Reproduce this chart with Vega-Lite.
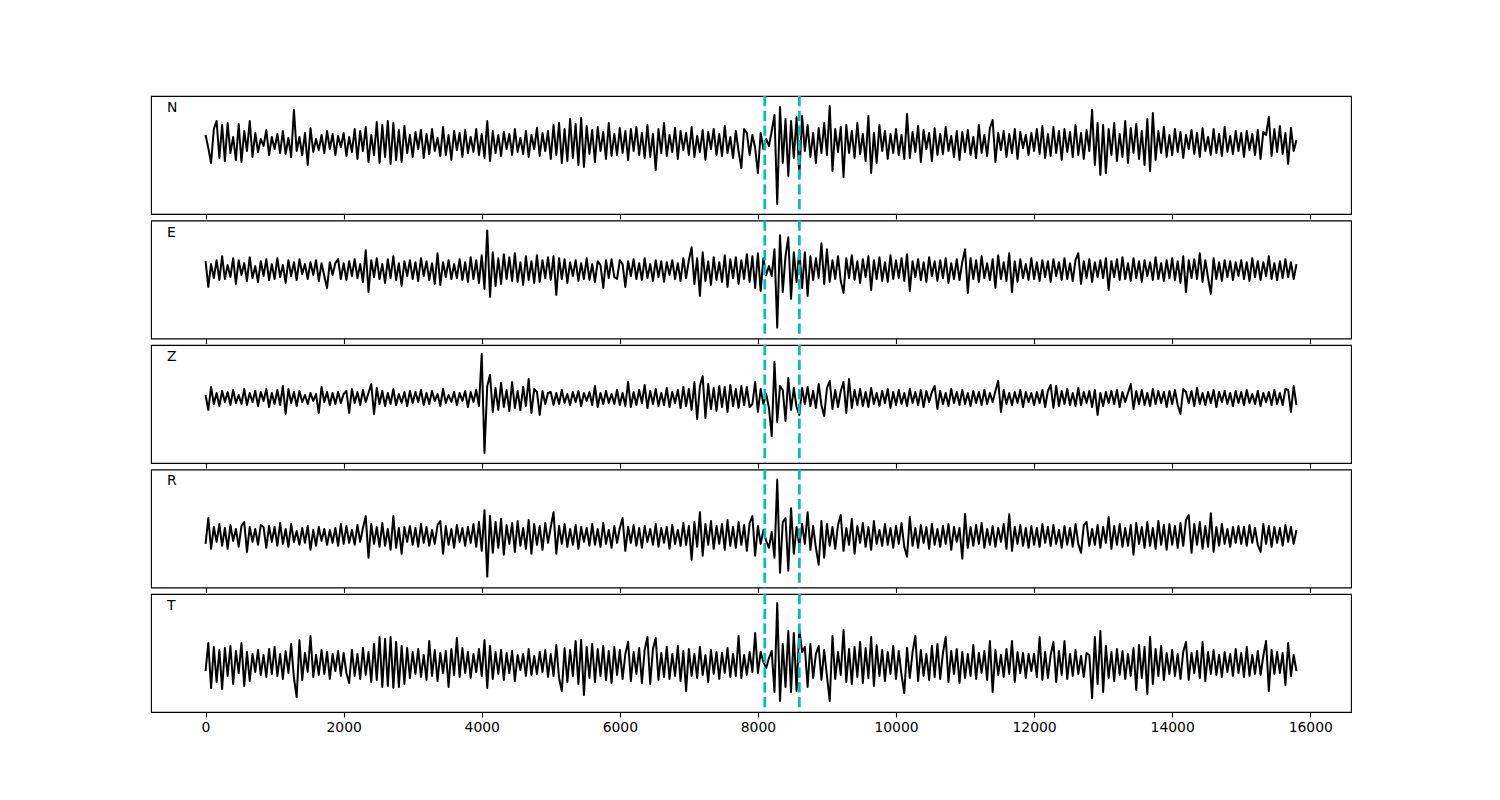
{
"$schema": "https://vega.github.io/schema/vega-lite/v6.json",
"padding": {"left": 150, "top": 94, "right": 0, "bottom": 0},
"background": "white",
"spacing": 6.5,
"bounds": "flush",
"config": {
  "view": {"stroke": "black", "strokeWidth": 1.1},
  "axis": {"labelFont": "DejaVu Sans", "labelFontSize": 13.9, "labelColor": "black", "tickColor": "black", "tickSize": 5, "tickWidth": 1.1, "grid": false, "domain": false, "labelPadding": 3, "title": null, "format": "d"}
},
"datasets": {
"picks": [{"t": 8100}, {"t": 8600}],
"N": [
{"x":0,"y":8},{"x":40,"y":-5},{"x":80,"y":-20},{"x":120,"y":14},{"x":160,"y":22},{"x":200,"y":-15},{"x":240,"y":18},{"x":280,"y":-18},{"x":320,"y":20},{"x":360,"y":-10},{"x":400,"y":6},{"x":440,"y":-17},{"x":480,"y":19},{"x":520,"y":-19},{"x":560,"y":12},{"x":600,"y":-8},{"x":640,"y":22},{"x":680,"y":-14},{"x":720,"y":10},{"x":760,"y":-9},{"x":800,"y":4},{"x":840,"y":-3},{"x":880,"y":13},{"x":920,"y":-12},{"x":960,"y":6},
{"x":1000,"y":-6},{"x":1040,"y":9},{"x":1080,"y":-10},{"x":1120,"y":12},{"x":1160,"y":-11},{"x":1200,"y":5},{"x":1240,"y":-14},{"x":1280,"y":33},{"x":1320,"y":-8},{"x":1360,"y":6},{"x":1400,"y":-12},{"x":1440,"y":10},{"x":1480,"y":-22},{"x":1520,"y":15},{"x":1560,"y":-9},{"x":1600,"y":4},{"x":1640,"y":-7},{"x":1680,"y":8},{"x":1720,"y":-10},{"x":1760,"y":12},{"x":1800,"y":-6},{"x":1840,"y":9},{"x":1880,"y":-12},{"x":1920,"y":7},{"x":1960,"y":-4},
{"x":2000,"y":10},{"x":2040,"y":-13},{"x":2080,"y":6},{"x":2120,"y":-9},{"x":2160,"y":14},{"x":2200,"y":-16},{"x":2240,"y":12},{"x":2280,"y":-8},{"x":2320,"y":16},{"x":2360,"y":-19},{"x":2400,"y":8},{"x":2440,"y":-12},{"x":2480,"y":21},{"x":2520,"y":-20},{"x":2560,"y":18},{"x":2600,"y":-14},{"x":2640,"y":22},{"x":2680,"y":-21},{"x":2720,"y":20},{"x":2760,"y":-17},{"x":2800,"y":13},{"x":2840,"y":-19},{"x":2880,"y":17},{"x":2920,"y":-10},{"x":2960,"y":8},
{"x":3000,"y":-14},{"x":3040,"y":11},{"x":3080,"y":-6},{"x":3120,"y":13},{"x":3160,"y":-15},{"x":3200,"y":9},{"x":3240,"y":-11},{"x":3280,"y":14},{"x":3320,"y":-8},{"x":3360,"y":5},{"x":3400,"y":-13},{"x":3440,"y":16},{"x":3480,"y":-12},{"x":3520,"y":8},{"x":3560,"y":-17},{"x":3600,"y":12},{"x":3640,"y":-7},{"x":3680,"y":10},{"x":3720,"y":-14},{"x":3760,"y":13},{"x":3800,"y":-10},{"x":3840,"y":6},{"x":3880,"y":-9},{"x":3920,"y":14},{"x":3960,"y":-12},
{"x":4000,"y":9},{"x":4040,"y":-15},{"x":4080,"y":22},{"x":4120,"y":-18},{"x":4160,"y":12},{"x":4200,"y":-10},{"x":4240,"y":8},{"x":4280,"y":-13},{"x":4320,"y":11},{"x":4360,"y":-6},{"x":4400,"y":9},{"x":4440,"y":-12},{"x":4480,"y":14},{"x":4520,"y":-9},{"x":4560,"y":5},{"x":4600,"y":-11},{"x":4640,"y":12},{"x":4680,"y":-14},{"x":4720,"y":8},{"x":4760,"y":-6},{"x":4800,"y":15},{"x":4840,"y":-13},{"x":4880,"y":10},{"x":4920,"y":-8},{"x":4960,"y":12},
{"x":5000,"y":-16},{"x":5040,"y":18},{"x":5080,"y":-12},{"x":5120,"y":20},{"x":5160,"y":-20},{"x":5200,"y":14},{"x":5240,"y":-18},{"x":5280,"y":24},{"x":5320,"y":-15},{"x":5360,"y":19},{"x":5400,"y":-22},{"x":5440,"y":25},{"x":5480,"y":-24},{"x":5520,"y":17},{"x":5560,"y":-11},{"x":5600,"y":13},{"x":5640,"y":-19},{"x":5680,"y":16},{"x":5720,"y":-8},{"x":5760,"y":11},{"x":5800,"y":-16},{"x":5840,"y":20},{"x":5880,"y":-13},{"x":5920,"y":9},{"x":5960,"y":-12},
{"x":6000,"y":15},{"x":6040,"y":-10},{"x":6080,"y":12},{"x":6120,"y":-17},{"x":6160,"y":14},{"x":6200,"y":-8},{"x":6240,"y":16},{"x":6280,"y":-12},{"x":6320,"y":10},{"x":6360,"y":-15},{"x":6400,"y":18},{"x":6440,"y":-14},{"x":6480,"y":9},{"x":6520,"y":-27},{"x":6560,"y":14},{"x":6600,"y":-10},{"x":6640,"y":20},{"x":6680,"y":-13},{"x":6720,"y":8},{"x":6760,"y":-9},{"x":6800,"y":15},{"x":6840,"y":-16},{"x":6880,"y":12},{"x":6920,"y":-7},{"x":6960,"y":10},
{"x":7000,"y":-12},{"x":7040,"y":16},{"x":7080,"y":-14},{"x":7120,"y":7},{"x":7160,"y":-9},{"x":7200,"y":13},{"x":7240,"y":-17},{"x":7280,"y":11},{"x":7320,"y":-6},{"x":7360,"y":14},{"x":7400,"y":-12},{"x":7440,"y":9},{"x":7480,"y":-13},{"x":7520,"y":17},{"x":7560,"y":-10},{"x":7600,"y":6},{"x":7640,"y":-15},{"x":7680,"y":12},{"x":7720,"y":-8},{"x":7760,"y":-25},{"x":7800,"y":14},{"x":7840,"y":10},{"x":7880,"y":-12},{"x":7920,"y":8},{"x":7960,"y":-5},
{"x":8000,"y":-30},{"x":8040,"y":10},{"x":8080,"y":-6},{"x":8120,"y":4},{"x":8160,"y":-3},{"x":8200,"y":12},{"x":8240,"y":28},{"x":8280,"y":-61},{"x":8320,"y":36},{"x":8360,"y":-20},{"x":8400,"y":24},{"x":8440,"y":-33},{"x":8480,"y":22},{"x":8520,"y":-15},{"x":8560,"y":26},{"x":8600,"y":-33},{"x":8640,"y":27},{"x":8680,"y":-8},{"x":8720,"y":18},{"x":8760,"y":-14},{"x":8800,"y":10},{"x":8840,"y":-20},{"x":8880,"y":15},{"x":8920,"y":-10},{"x":8960,"y":20},
{"x":9000,"y":-12},{"x":9040,"y":37},{"x":9080,"y":-28},{"x":9120,"y":14},{"x":9160,"y":-9},{"x":9200,"y":16},{"x":9240,"y":-34},{"x":9280,"y":18},{"x":9320,"y":-10},{"x":9360,"y":12},{"x":9400,"y":-15},{"x":9440,"y":20},{"x":9480,"y":-11},{"x":9520,"y":9},{"x":9560,"y":-18},{"x":9600,"y":27},{"x":9640,"y":-30},{"x":9680,"y":10},{"x":9720,"y":-20},{"x":9760,"y":18},{"x":9800,"y":-8},{"x":9840,"y":12},{"x":9880,"y":-16},{"x":9920,"y":9},{"x":9960,"y":-10},
{"x":10000,"y":14},{"x":10040,"y":-12},{"x":10080,"y":8},{"x":10120,"y":-16},{"x":10160,"y":29},{"x":10200,"y":-15},{"x":10240,"y":11},{"x":10280,"y":-9},{"x":10320,"y":17},{"x":10360,"y":-19},{"x":10400,"y":13},{"x":10440,"y":-6},{"x":10480,"y":10},{"x":10520,"y":-18},{"x":10560,"y":15},{"x":10600,"y":-12},{"x":10640,"y":9},{"x":10680,"y":-11},{"x":10720,"y":16},{"x":10760,"y":-8},{"x":10800,"y":7},{"x":10840,"y":-14},{"x":10880,"y":12},{"x":10920,"y":-17},{"x":10960,"y":11},
{"x":11000,"y":-9},{"x":11040,"y":13},{"x":11080,"y":-12},{"x":11120,"y":6},{"x":11160,"y":-15},{"x":11200,"y":18},{"x":11240,"y":-10},{"x":11280,"y":8},{"x":11320,"y":-13},{"x":11360,"y":15},{"x":11400,"y":23},{"x":11440,"y":-19},{"x":11480,"y":10},{"x":11520,"y":-7},{"x":11560,"y":12},{"x":11600,"y":-14},{"x":11640,"y":9},{"x":11680,"y":-10},{"x":11720,"y":14},{"x":11760,"y":-16},{"x":11800,"y":11},{"x":11840,"y":-5},{"x":11880,"y":8},{"x":11920,"y":-12},{"x":11960,"y":10},
{"x":12000,"y":-8},{"x":12040,"y":14},{"x":12080,"y":-11},{"x":12120,"y":17},{"x":12160,"y":-15},{"x":12200,"y":9},{"x":12240,"y":-13},{"x":12280,"y":16},{"x":12320,"y":-10},{"x":12360,"y":12},{"x":12400,"y":-17},{"x":12440,"y":14},{"x":12480,"y":-9},{"x":12520,"y":11},{"x":12560,"y":-14},{"x":12600,"y":18},{"x":12640,"y":-12},{"x":12680,"y":10},{"x":12720,"y":-16},{"x":12760,"y":13},{"x":12800,"y":-8},{"x":12840,"y":33},{"x":12880,"y":-22},{"x":12920,"y":20},{"x":12960,"y":-32},
{"x":13000,"y":18},{"x":13040,"y":-30},{"x":13080,"y":14},{"x":13120,"y":-12},{"x":13160,"y":20},{"x":13200,"y":-18},{"x":13240,"y":9},{"x":13280,"y":-14},{"x":13320,"y":22},{"x":13360,"y":-20},{"x":13400,"y":15},{"x":13440,"y":-10},{"x":13480,"y":19},{"x":13520,"y":-16},{"x":13560,"y":12},{"x":13600,"y":-22},{"x":13640,"y":24},{"x":13680,"y":-28},{"x":13720,"y":30},{"x":13760,"y":-17},{"x":13800,"y":12},{"x":13840,"y":-10},{"x":13880,"y":16},{"x":13920,"y":-14},{"x":13960,"y":8},
{"x":14000,"y":-12},{"x":14040,"y":14},{"x":14080,"y":-9},{"x":14120,"y":11},{"x":14160,"y":-15},{"x":14200,"y":8},{"x":14240,"y":-6},{"x":14280,"y":13},{"x":14320,"y":-11},{"x":14360,"y":10},{"x":14400,"y":-14},{"x":14440,"y":15},{"x":14480,"y":-8},{"x":14520,"y":6},{"x":14560,"y":-12},{"x":14600,"y":14},{"x":14640,"y":-10},{"x":14680,"y":9},{"x":14720,"y":-13},{"x":14760,"y":16},{"x":14800,"y":-9},{"x":14840,"y":7},{"x":14880,"y":-11},{"x":14920,"y":12},{"x":14960,"y":-8},
{"x":15000,"y":10},{"x":15040,"y":-14},{"x":15080,"y":12},{"x":15120,"y":-7},{"x":15160,"y":9},{"x":15200,"y":-12},{"x":15240,"y":13},{"x":15280,"y":-16},{"x":15320,"y":11},{"x":15360,"y":8},{"x":15400,"y":26},{"x":15440,"y":-13},{"x":15480,"y":14},{"x":15520,"y":-9},{"x":15560,"y":17},{"x":15600,"y":-11},{"x":15640,"y":10},{"x":15680,"y":-21},{"x":15720,"y":15},{"x":15760,"y":-8},{"x":15800,"y":3}
],
"E": [
{"x":0,"y":9},{"x":40,"y":-17},{"x":80,"y":6},{"x":120,"y":-8},{"x":160,"y":10},{"x":200,"y":-10},{"x":240,"y":14},{"x":280,"y":-9},{"x":320,"y":5},{"x":360,"y":-7},{"x":400,"y":12},{"x":440,"y":-14},{"x":480,"y":10},{"x":520,"y":-5},{"x":560,"y":7},{"x":600,"y":-11},{"x":640,"y":13},{"x":680,"y":-8},{"x":720,"y":4},{"x":760,"y":-12},{"x":800,"y":9},{"x":840,"y":-6},{"x":880,"y":11},{"x":920,"y":-10},{"x":960,"y":6},
{"x":1000,"y":-9},{"x":1040,"y":12},{"x":1080,"y":-7},{"x":1120,"y":5},{"x":1160,"y":-13},{"x":1200,"y":10},{"x":1240,"y":-6},{"x":1280,"y":8},{"x":1320,"y":-10},{"x":1360,"y":11},{"x":1400,"y":-4},{"x":1440,"y":6},{"x":1480,"y":-9},{"x":1520,"y":8},{"x":1560,"y":-5},{"x":1600,"y":10},{"x":1640,"y":-11},{"x":1680,"y":7},{"x":1720,"y":-6},{"x":1760,"y":-18},{"x":1800,"y":8},{"x":1840,"y":-5},{"x":1880,"y":7},{"x":1920,"y":11},{"x":1960,"y":-9},
{"x":2000,"y":7},{"x":2040,"y":-10},{"x":2080,"y":9},{"x":2120,"y":-6},{"x":2160,"y":11},{"x":2200,"y":-8},{"x":2240,"y":6},{"x":2280,"y":-12},{"x":2320,"y":20},{"x":2360,"y":-22},{"x":2400,"y":10},{"x":2440,"y":-7},{"x":2480,"y":12},{"x":2520,"y":-9},{"x":2560,"y":6},{"x":2600,"y":-13},{"x":2640,"y":11},{"x":2680,"y":-8},{"x":2720,"y":14},{"x":2760,"y":-10},{"x":2800,"y":7},{"x":2840,"y":-16},{"x":2880,"y":9},{"x":2920,"y":-6},{"x":2960,"y":10},
{"x":3000,"y":-9},{"x":3040,"y":8},{"x":3080,"y":-11},{"x":3120,"y":12},{"x":3160,"y":-6},{"x":3200,"y":9},{"x":3240,"y":-10},{"x":3280,"y":7},{"x":3320,"y":-14},{"x":3360,"y":17},{"x":3400,"y":-15},{"x":3440,"y":8},{"x":3480,"y":-7},{"x":3520,"y":10},{"x":3560,"y":-9},{"x":3600,"y":6},{"x":3640,"y":-8},{"x":3680,"y":11},{"x":3720,"y":-10},{"x":3760,"y":8},{"x":3800,"y":-12},{"x":3840,"y":13},{"x":3880,"y":-9},{"x":3920,"y":10},{"x":3960,"y":-13},
{"x":4000,"y":15},{"x":4040,"y":-19},{"x":4080,"y":40},{"x":4120,"y":-27},{"x":4160,"y":18},{"x":4200,"y":-16},{"x":4240,"y":12},{"x":4280,"y":-14},{"x":4320,"y":16},{"x":4360,"y":-9},{"x":4400,"y":13},{"x":4440,"y":-11},{"x":4480,"y":17},{"x":4520,"y":-12},{"x":4560,"y":8},{"x":4600,"y":-15},{"x":4640,"y":14},{"x":4680,"y":-10},{"x":4720,"y":9},{"x":4760,"y":-13},{"x":4800,"y":15},{"x":4840,"y":-12},{"x":4880,"y":10},{"x":4920,"y":-8},{"x":4960,"y":13},
{"x":5000,"y":-10},{"x":5040,"y":14},{"x":5080,"y":-25},{"x":5120,"y":12},{"x":5160,"y":-9},{"x":5200,"y":11},{"x":5240,"y":-13},{"x":5280,"y":8},{"x":5320,"y":-6},{"x":5360,"y":10},{"x":5400,"y":-11},{"x":5440,"y":7},{"x":5480,"y":-9},{"x":5520,"y":12},{"x":5560,"y":-10},{"x":5600,"y":6},{"x":5640,"y":-12},{"x":5680,"y":9},{"x":5720,"y":5},{"x":5760,"y":-18},{"x":5800,"y":10},{"x":5840,"y":-8},{"x":5880,"y":11},{"x":5920,"y":-7},{"x":5960,"y":-9},
{"x":6000,"y":10},{"x":6040,"y":6},{"x":6080,"y":-17},{"x":6120,"y":9},{"x":6160,"y":-6},{"x":6200,"y":11},{"x":6240,"y":-9},{"x":6280,"y":7},{"x":6320,"y":-10},{"x":6360,"y":12},{"x":6400,"y":-8},{"x":6440,"y":6},{"x":6480,"y":-11},{"x":6520,"y":10},{"x":6560,"y":-7},{"x":6600,"y":9},{"x":6640,"y":-12},{"x":6680,"y":8},{"x":6720,"y":-5},{"x":6760,"y":10},{"x":6800,"y":-9},{"x":6840,"y":7},{"x":6880,"y":-11},{"x":6920,"y":12},{"x":6960,"y":-8},
{"x":7000,"y":10},{"x":7040,"y":23},{"x":7080,"y":-14},{"x":7120,"y":12},{"x":7160,"y":-26},{"x":7200,"y":18},{"x":7240,"y":-11},{"x":7280,"y":9},{"x":7320,"y":-15},{"x":7360,"y":13},{"x":7400,"y":-10},{"x":7440,"y":8},{"x":7480,"y":-12},{"x":7520,"y":15},{"x":7560,"y":-17},{"x":7600,"y":11},{"x":7640,"y":-8},{"x":7680,"y":13},{"x":7720,"y":-14},{"x":7760,"y":10},{"x":7800,"y":-9},{"x":7840,"y":16},{"x":7880,"y":-12},{"x":7920,"y":14},{"x":7960,"y":-18},
{"x":8000,"y":17},{"x":8040,"y":-21},{"x":8080,"y":12},{"x":8120,"y":-5},{"x":8160,"y":4},{"x":8200,"y":-6},{"x":8240,"y":21},{"x":8280,"y":-58},{"x":8320,"y":35},{"x":8360,"y":-22},{"x":8400,"y":14},{"x":8440,"y":33},{"x":8480,"y":-29},{"x":8520,"y":18},{"x":8560,"y":-12},{"x":8600,"y":20},{"x":8640,"y":-18},{"x":8680,"y":18},{"x":8720,"y":-26},{"x":8760,"y":14},{"x":8800,"y":-10},{"x":8840,"y":12},{"x":8880,"y":-8},{"x":8920,"y":27},{"x":8960,"y":-14},
{"x":9000,"y":21},{"x":9040,"y":-12},{"x":9080,"y":10},{"x":9120,"y":-9},{"x":9160,"y":14},{"x":9200,"y":-11},{"x":9240,"y":-23},{"x":9280,"y":12},{"x":9320,"y":-8},{"x":9360,"y":15},{"x":9400,"y":-10},{"x":9440,"y":9},{"x":9480,"y":-13},{"x":9520,"y":11},{"x":9560,"y":-7},{"x":9600,"y":14},{"x":9640,"y":-20},{"x":9680,"y":10},{"x":9720,"y":-9},{"x":9760,"y":13},{"x":9800,"y":-11},{"x":9840,"y":8},{"x":9880,"y":-12},{"x":9920,"y":15},{"x":9960,"y":-9},
{"x":10000,"y":10},{"x":10040,"y":-8},{"x":10080,"y":12},{"x":10120,"y":-11},{"x":10160,"y":16},{"x":10200,"y":-21},{"x":10240,"y":9},{"x":10280,"y":-7},{"x":10320,"y":11},{"x":10360,"y":-10},{"x":10400,"y":8},{"x":10440,"y":-12},{"x":10480,"y":13},{"x":10520,"y":-6},{"x":10560,"y":9},{"x":10600,"y":-11},{"x":10640,"y":10},{"x":10680,"y":-8},{"x":10720,"y":12},{"x":10760,"y":-13},{"x":10800,"y":7},{"x":10840,"y":-9},{"x":10880,"y":11},{"x":10920,"y":-10},{"x":10960,"y":8},
{"x":11000,"y":21},{"x":11040,"y":-23},{"x":11080,"y":12},{"x":11120,"y":-9},{"x":11160,"y":10},{"x":11200,"y":-12},{"x":11240,"y":14},{"x":11280,"y":-8},{"x":11320,"y":7},{"x":11360,"y":-10},{"x":11400,"y":11},{"x":11440,"y":-18},{"x":11480,"y":15},{"x":11520,"y":-9},{"x":11560,"y":8},{"x":11600,"y":-11},{"x":11640,"y":17},{"x":11680,"y":-22},{"x":11720,"y":9},{"x":11760,"y":-12},{"x":11800,"y":11},{"x":11840,"y":-8},{"x":11880,"y":6},{"x":11920,"y":-10},{"x":11960,"y":12},
{"x":12000,"y":-9},{"x":12040,"y":8},{"x":12080,"y":-11},{"x":12120,"y":10},{"x":12160,"y":-7},{"x":12200,"y":9},{"x":12240,"y":-12},{"x":12280,"y":11},{"x":12320,"y":-6},{"x":12360,"y":8},{"x":12400,"y":-10},{"x":12440,"y":12},{"x":12480,"y":-9},{"x":12520,"y":7},{"x":12560,"y":-11},{"x":12600,"y":10},{"x":12640,"y":17},{"x":12680,"y":-14},{"x":12720,"y":9},{"x":12760,"y":-8},{"x":12800,"y":11},{"x":12840,"y":-12},{"x":12880,"y":8},{"x":12920,"y":-7},{"x":12960,"y":10},
{"x":13000,"y":-8},{"x":13040,"y":12},{"x":13080,"y":-20},{"x":13120,"y":9},{"x":13160,"y":-7},{"x":13200,"y":11},{"x":13240,"y":-10},{"x":13280,"y":13},{"x":13320,"y":-9},{"x":13360,"y":7},{"x":13400,"y":-11},{"x":13440,"y":12},{"x":13480,"y":-8},{"x":13520,"y":9},{"x":13560,"y":-12},{"x":13600,"y":10},{"x":13640,"y":-6},{"x":13680,"y":8},{"x":13720,"y":-10},{"x":13760,"y":13},{"x":13800,"y":-9},{"x":13840,"y":7},{"x":13880,"y":-11},{"x":13920,"y":10},{"x":13960,"y":-8},
{"x":14000,"y":12},{"x":14040,"y":-10},{"x":14080,"y":9},{"x":14120,"y":-13},{"x":14160,"y":14},{"x":14200,"y":-22},{"x":14240,"y":10},{"x":14280,"y":-8},{"x":14320,"y":11},{"x":14360,"y":-9},{"x":14400,"y":17},{"x":14440,"y":-12},{"x":14480,"y":10},{"x":14520,"y":-8},{"x":14560,"y":-24},{"x":14600,"y":12},{"x":14640,"y":-9},{"x":14680,"y":8},{"x":14720,"y":-11},{"x":14760,"y":10},{"x":14800,"y":-7},{"x":14840,"y":9},{"x":14880,"y":-10},{"x":14920,"y":8},{"x":14960,"y":-6},
{"x":15000,"y":10},{"x":15040,"y":-9},{"x":15080,"y":8},{"x":15120,"y":-11},{"x":15160,"y":12},{"x":15200,"y":-7},{"x":15240,"y":9},{"x":15280,"y":-10},{"x":15320,"y":8},{"x":15360,"y":-6},{"x":15400,"y":14},{"x":15440,"y":-9},{"x":15480,"y":7},{"x":15520,"y":-10},{"x":15560,"y":9},{"x":15600,"y":-8},{"x":15640,"y":11},{"x":15680,"y":-7},{"x":15720,"y":8},{"x":15760,"y":-9},{"x":15800,"y":6}
],
"Z": [
{"x":0,"y":3},{"x":40,"y":-12},{"x":80,"y":11},{"x":120,"y":-6},{"x":160,"y":5},{"x":200,"y":-8},{"x":240,"y":7},{"x":280,"y":-4},{"x":320,"y":6},{"x":360,"y":-7},{"x":400,"y":8},{"x":440,"y":-5},{"x":480,"y":3},{"x":520,"y":-6},{"x":560,"y":9},{"x":600,"y":-7},{"x":640,"y":5},{"x":680,"y":-4},{"x":720,"y":7},{"x":760,"y":-8},{"x":800,"y":6},{"x":840,"y":-3},{"x":880,"y":9},{"x":920,"y":-9},{"x":960,"y":5},
{"x":1000,"y":-6},{"x":1040,"y":8},{"x":1080,"y":-7},{"x":1120,"y":12},{"x":1160,"y":-16},{"x":1200,"y":9},{"x":1240,"y":-5},{"x":1280,"y":6},{"x":1320,"y":-8},{"x":1360,"y":7},{"x":1400,"y":-4},{"x":1440,"y":3},{"x":1480,"y":-6},{"x":1520,"y":5},{"x":1560,"y":-3},{"x":1600,"y":4},{"x":1640,"y":-15},{"x":1680,"y":11},{"x":1720,"y":-4},{"x":1760,"y":6},{"x":1800,"y":-7},{"x":1840,"y":5},{"x":1880,"y":-6},{"x":1920,"y":6},{"x":1960,"y":-5},
{"x":2000,"y":4},{"x":2040,"y":7},{"x":2080,"y":-15},{"x":2120,"y":9},{"x":2160,"y":-5},{"x":2200,"y":6},{"x":2240,"y":-7},{"x":2280,"y":8},{"x":2320,"y":-4},{"x":2360,"y":5},{"x":2400,"y":14},{"x":2440,"y":-16},{"x":2480,"y":10},{"x":2520,"y":-6},{"x":2560,"y":7},{"x":2600,"y":-8},{"x":2640,"y":5},{"x":2680,"y":-6},{"x":2720,"y":9},{"x":2760,"y":-7},{"x":2800,"y":4},{"x":2840,"y":-5},{"x":2880,"y":6},{"x":2920,"y":-8},{"x":2960,"y":7},
{"x":3000,"y":-5},{"x":3040,"y":6},{"x":3080,"y":-4},{"x":3120,"y":8},{"x":3160,"y":-7},{"x":3200,"y":5},{"x":3240,"y":-6},{"x":3280,"y":7},{"x":3320,"y":-3},{"x":3360,"y":4},{"x":3400,"y":-8},{"x":3440,"y":9},{"x":3480,"y":-5},{"x":3520,"y":3},{"x":3560,"y":-4},{"x":3600,"y":6},{"x":3640,"y":-7},{"x":3680,"y":5},{"x":3720,"y":-3},{"x":3760,"y":7},{"x":3800,"y":-9},{"x":3840,"y":6},{"x":3880,"y":-4},{"x":3920,"y":8},{"x":3960,"y":-8},
{"x":4000,"y":44},{"x":4040,"y":-55},{"x":4080,"y":12},{"x":4120,"y":23},{"x":4160,"y":-14},{"x":4200,"y":10},{"x":4240,"y":-12},{"x":4280,"y":15},{"x":4320,"y":-9},{"x":4360,"y":8},{"x":4400,"y":-13},{"x":4440,"y":16},{"x":4480,"y":-10},{"x":4520,"y":7},{"x":4560,"y":-12},{"x":4600,"y":11},{"x":4640,"y":-8},{"x":4680,"y":19},{"x":4720,"y":-15},{"x":4760,"y":9},{"x":4800,"y":6},{"x":4840,"y":-17},{"x":4880,"y":7},{"x":4920,"y":-6},{"x":4960,"y":5},
{"x":5000,"y":6},{"x":5040,"y":-7},{"x":5080,"y":5},{"x":5120,"y":-6},{"x":5160,"y":8},{"x":5200,"y":-5},{"x":5240,"y":4},{"x":5280,"y":-7},{"x":5320,"y":6},{"x":5360,"y":-4},{"x":5400,"y":7},{"x":5440,"y":-8},{"x":5480,"y":5},{"x":5520,"y":-3},{"x":5560,"y":6},{"x":5600,"y":-7},{"x":5640,"y":12},{"x":5680,"y":-9},{"x":5720,"y":5},{"x":5760,"y":-6},{"x":5800,"y":7},{"x":5840,"y":-5},{"x":5880,"y":4},{"x":5920,"y":-6},{"x":5960,"y":8},
{"x":6000,"y":-7},{"x":6040,"y":5},{"x":6080,"y":-8},{"x":6120,"y":16},{"x":6160,"y":-9},{"x":6200,"y":6},{"x":6240,"y":-7},{"x":6280,"y":8},{"x":6320,"y":-5},{"x":6360,"y":13},{"x":6400,"y":-10},{"x":6440,"y":7},{"x":6480,"y":-6},{"x":6520,"y":9},{"x":6560,"y":-8},{"x":6600,"y":5},{"x":6640,"y":-7},{"x":6680,"y":10},{"x":6720,"y":-9},{"x":6760,"y":6},{"x":6800,"y":-5},{"x":6840,"y":8},{"x":6880,"y":-10},{"x":6920,"y":11},{"x":6960,"y":-8},
{"x":7000,"y":9},{"x":7040,"y":-12},{"x":7080,"y":16},{"x":7120,"y":-21},{"x":7160,"y":12},{"x":7200,"y":22},{"x":7240,"y":-20},{"x":7280,"y":14},{"x":7320,"y":-11},{"x":7360,"y":10},{"x":7400,"y":-13},{"x":7440,"y":12},{"x":7480,"y":-9},{"x":7520,"y":11},{"x":7560,"y":-14},{"x":7600,"y":13},{"x":7640,"y":-8},{"x":7680,"y":9},{"x":7720,"y":-10},{"x":7760,"y":12},{"x":7800,"y":-7},{"x":7840,"y":11},{"x":7880,"y":-9},{"x":7920,"y":-6},{"x":7960,"y":16},
{"x":8000,"y":-14},{"x":8040,"y":9},{"x":8080,"y":-6},{"x":8120,"y":4},{"x":8160,"y":-10},{"x":8200,"y":-38},{"x":8240,"y":36},{"x":8280,"y":-24},{"x":8320,"y":12},{"x":8360,"y":8},{"x":8400,"y":-23},{"x":8440,"y":20},{"x":8480,"y":-12},{"x":8520,"y":10},{"x":8560,"y":-9},{"x":8600,"y":-17},{"x":8640,"y":10},{"x":8680,"y":-6},{"x":8720,"y":11},{"x":8760,"y":-8},{"x":8800,"y":7},{"x":8840,"y":-10},{"x":8880,"y":14},{"x":8920,"y":-7},{"x":8960,"y":-18},
{"x":9000,"y":10},{"x":9040,"y":17},{"x":9080,"y":-11},{"x":9120,"y":8},{"x":9160,"y":-9},{"x":9200,"y":7},{"x":9240,"y":16},{"x":9280,"y":-15},{"x":9320,"y":19},{"x":9360,"y":-10},{"x":9400,"y":8},{"x":9440,"y":-7},{"x":9480,"y":9},{"x":9520,"y":-8},{"x":9560,"y":6},{"x":9600,"y":-9},{"x":9640,"y":10},{"x":9680,"y":-6},{"x":9720,"y":5},{"x":9760,"y":-8},{"x":9800,"y":7},{"x":9840,"y":-5},{"x":9880,"y":9},{"x":9920,"y":-10},{"x":9960,"y":6},
{"x":10000,"y":-7},{"x":10040,"y":8},{"x":10080,"y":-6},{"x":10120,"y":5},{"x":10160,"y":-8},{"x":10200,"y":9},{"x":10240,"y":-5},{"x":10280,"y":6},{"x":10320,"y":-7},{"x":10360,"y":8},{"x":10400,"y":-9},{"x":10440,"y":7},{"x":10480,"y":-4},{"x":10520,"y":6},{"x":10560,"y":12},{"x":10600,"y":-11},{"x":10640,"y":7},{"x":10680,"y":-6},{"x":10720,"y":5},{"x":10760,"y":-8},{"x":10800,"y":9},{"x":10840,"y":-5},{"x":10880,"y":6},{"x":10920,"y":-7},{"x":10960,"y":8},
{"x":11000,"y":-6},{"x":11040,"y":5},{"x":11080,"y":-8},{"x":11120,"y":7},{"x":11160,"y":-5},{"x":11200,"y":6},{"x":11240,"y":-7},{"x":11280,"y":8},{"x":11320,"y":-6},{"x":11360,"y":5},{"x":11400,"y":-4},{"x":11440,"y":7},{"x":11480,"y":17},{"x":11520,"y":-14},{"x":11560,"y":8},{"x":11600,"y":-6},{"x":11640,"y":5},{"x":11680,"y":-7},{"x":11720,"y":6},{"x":11760,"y":-5},{"x":11800,"y":8},{"x":11840,"y":-9},{"x":11880,"y":6},{"x":11920,"y":-4},{"x":11960,"y":5},
{"x":12000,"y":-7},{"x":12040,"y":6},{"x":12080,"y":-5},{"x":12120,"y":8},{"x":12160,"y":-9},{"x":12200,"y":7},{"x":12240,"y":13},{"x":12280,"y":-10},{"x":12320,"y":12},{"x":12360,"y":-8},{"x":12400,"y":7},{"x":12440,"y":-6},{"x":12480,"y":9},{"x":12520,"y":-7},{"x":12560,"y":5},{"x":12600,"y":-8},{"x":12640,"y":10},{"x":12680,"y":-7},{"x":12720,"y":6},{"x":12760,"y":-5},{"x":12800,"y":7},{"x":12840,"y":-9},{"x":12880,"y":8},{"x":12920,"y":-17},{"x":12960,"y":5},
{"x":13000,"y":-8},{"x":13040,"y":6},{"x":13080,"y":-5},{"x":13120,"y":7},{"x":13160,"y":-6},{"x":13200,"y":8},{"x":13240,"y":-9},{"x":13280,"y":6},{"x":13320,"y":-4},{"x":13360,"y":5},{"x":13400,"y":14},{"x":13440,"y":-11},{"x":13480,"y":7},{"x":13520,"y":-6},{"x":13560,"y":8},{"x":13600,"y":-7},{"x":13640,"y":5},{"x":13680,"y":-8},{"x":13720,"y":9},{"x":13760,"y":-6},{"x":13800,"y":7},{"x":13840,"y":-5},{"x":13880,"y":6},{"x":13920,"y":-9},{"x":13960,"y":7},
{"x":14000,"y":-6},{"x":14040,"y":8},{"x":14080,"y":-7},{"x":14120,"y":-16},{"x":14160,"y":9},{"x":14200,"y":6},{"x":14240,"y":-5},{"x":14280,"y":7},{"x":14320,"y":-8},{"x":14360,"y":10},{"x":14400,"y":-6},{"x":14440,"y":5},{"x":14480,"y":-7},{"x":14520,"y":6},{"x":14560,"y":-5},{"x":14600,"y":8},{"x":14640,"y":-9},{"x":14680,"y":6},{"x":14720,"y":-4},{"x":14760,"y":7},{"x":14800,"y":-6},{"x":14840,"y":5},{"x":14880,"y":-8},{"x":14920,"y":7},{"x":14960,"y":-5},
{"x":15000,"y":6},{"x":15040,"y":-7},{"x":15080,"y":8},{"x":15120,"y":-5},{"x":15160,"y":4},{"x":15200,"y":-6},{"x":15240,"y":7},{"x":15280,"y":-8},{"x":15320,"y":5},{"x":15360,"y":-4},{"x":15400,"y":6},{"x":15440,"y":-7},{"x":15480,"y":8},{"x":15520,"y":-6},{"x":15560,"y":5},{"x":15600,"y":-7},{"x":15640,"y":9},{"x":15680,"y":8},{"x":15720,"y":-14},{"x":15760,"y":12},{"x":15800,"y":-7}
],
"R": [
{"x":0,"y":-8},{"x":40,"y":18},{"x":80,"y":-13},{"x":120,"y":9},{"x":160,"y":-6},{"x":200,"y":12},{"x":240,"y":-10},{"x":280,"y":8},{"x":320,"y":-13},{"x":360,"y":11},{"x":400,"y":-5},{"x":440,"y":7},{"x":480,"y":-11},{"x":520,"y":10},{"x":560,"y":14},{"x":600,"y":-16},{"x":640,"y":9},{"x":680,"y":-6},{"x":720,"y":7},{"x":760,"y":-9},{"x":800,"y":11},{"x":840,"y":9},{"x":880,"y":-12},{"x":920,"y":10},{"x":960,"y":-6},
{"x":1000,"y":9},{"x":1040,"y":-10},{"x":1080,"y":13},{"x":1120,"y":-8},{"x":1160,"y":7},{"x":1200,"y":-11},{"x":1240,"y":12},{"x":1280,"y":-6},{"x":1320,"y":5},{"x":1360,"y":-9},{"x":1400,"y":8},{"x":1440,"y":-7},{"x":1480,"y":10},{"x":1520,"y":-14},{"x":1560,"y":6},{"x":1600,"y":-10},{"x":1640,"y":9},{"x":1680,"y":-5},{"x":1720,"y":7},{"x":1760,"y":-9},{"x":1800,"y":6},{"x":1840,"y":-7},{"x":1880,"y":8},{"x":1920,"y":-10},{"x":1960,"y":12},
{"x":2000,"y":-8},{"x":2040,"y":10},{"x":2080,"y":-7},{"x":2120,"y":6},{"x":2160,"y":-9},{"x":2200,"y":11},{"x":2240,"y":-6},{"x":2280,"y":8},{"x":2320,"y":20},{"x":2360,"y":-22},{"x":2400,"y":12},{"x":2440,"y":-8},{"x":2480,"y":9},{"x":2520,"y":-11},{"x":2560,"y":13},{"x":2600,"y":-10},{"x":2640,"y":7},{"x":2680,"y":-14},{"x":2720,"y":20},{"x":2760,"y":-12},{"x":2800,"y":8},{"x":2840,"y":-18},{"x":2880,"y":9},{"x":2920,"y":-6},{"x":2960,"y":10},
{"x":3000,"y":-9},{"x":3040,"y":8},{"x":3080,"y":-11},{"x":3120,"y":12},{"x":3160,"y":-7},{"x":3200,"y":9},{"x":3240,"y":-10},{"x":3280,"y":6},{"x":3320,"y":-8},{"x":3360,"y":11},{"x":3400,"y":15},{"x":3440,"y":-18},{"x":3480,"y":10},{"x":3520,"y":-9},{"x":3560,"y":7},{"x":3600,"y":-12},{"x":3640,"y":11},{"x":3680,"y":-6},{"x":3720,"y":8},{"x":3760,"y":-10},{"x":3800,"y":9},{"x":3840,"y":-7},{"x":3880,"y":12},{"x":3920,"y":-11},{"x":3960,"y":14},
{"x":4000,"y":-15},{"x":4040,"y":26},{"x":4080,"y":-41},{"x":4120,"y":20},{"x":4160,"y":-17},{"x":4200,"y":14},{"x":4240,"y":-12},{"x":4280,"y":17},{"x":4320,"y":-19},{"x":4360,"y":11},{"x":4400,"y":-8},{"x":4440,"y":13},{"x":4480,"y":-16},{"x":4520,"y":15},{"x":4560,"y":-10},{"x":4600,"y":8},{"x":4640,"y":-13},{"x":4680,"y":16},{"x":4720,"y":-18},{"x":4760,"y":12},{"x":4800,"y":-9},{"x":4840,"y":10},{"x":4880,"y":-14},{"x":4920,"y":13},{"x":4960,"y":-7},
{"x":5000,"y":9},{"x":5040,"y":24},{"x":5080,"y":-18},{"x":5120,"y":10},{"x":5160,"y":-8},{"x":5200,"y":12},{"x":5240,"y":-11},{"x":5280,"y":7},{"x":5320,"y":-9},{"x":5360,"y":11},{"x":5400,"y":-13},{"x":5440,"y":9},{"x":5480,"y":-6},{"x":5520,"y":8},{"x":5560,"y":-10},{"x":5600,"y":12},{"x":5640,"y":-9},{"x":5680,"y":7},{"x":5720,"y":-11},{"x":5760,"y":13},{"x":5800,"y":-8},{"x":5840,"y":6},{"x":5880,"y":-12},{"x":5920,"y":10},{"x":5960,"y":-7},
{"x":6000,"y":8},{"x":6040,"y":18},{"x":6080,"y":-15},{"x":6120,"y":9},{"x":6160,"y":-7},{"x":6200,"y":11},{"x":6240,"y":-10},{"x":6280,"y":8},{"x":6320,"y":-12},{"x":6360,"y":10},{"x":6400,"y":-6},{"x":6440,"y":7},{"x":6480,"y":-9},{"x":6520,"y":12},{"x":6560,"y":-11},{"x":6600,"y":8},{"x":6640,"y":-7},{"x":6680,"y":9},{"x":6720,"y":-13},{"x":6760,"y":11},{"x":6800,"y":-8},{"x":6840,"y":6},{"x":6880,"y":-10},{"x":6920,"y":13},{"x":6960,"y":-9},
{"x":7000,"y":10},{"x":7040,"y":-24},{"x":7080,"y":14},{"x":7120,"y":-11},{"x":7160,"y":24},{"x":7200,"y":-20},{"x":7240,"y":12},{"x":7280,"y":-9},{"x":7320,"y":15},{"x":7360,"y":-13},{"x":7400,"y":10},{"x":7440,"y":-8},{"x":7480,"y":12},{"x":7520,"y":-14},{"x":7560,"y":16},{"x":7600,"y":-10},{"x":7640,"y":9},{"x":7680,"y":-12},{"x":7720,"y":14},{"x":7760,"y":-9},{"x":7800,"y":11},{"x":7840,"y":-15},{"x":7880,"y":13},{"x":7920,"y":20},{"x":7960,"y":-20},
{"x":8000,"y":10},{"x":8040,"y":-8},{"x":8080,"y":6},{"x":8120,"y":-5},{"x":8160,"y":-12},{"x":8200,"y":4},{"x":8240,"y":-22},{"x":8280,"y":57},{"x":8320,"y":-37},{"x":8360,"y":14},{"x":8400,"y":18},{"x":8440,"y":-35},{"x":8480,"y":28},{"x":8520,"y":-18},{"x":8560,"y":9},{"x":8600,"y":-10},{"x":8640,"y":12},{"x":8680,"y":-8},{"x":8720,"y":24},{"x":8760,"y":-14},{"x":8800,"y":10},{"x":8840,"y":-12},{"x":8880,"y":-29},{"x":8920,"y":15},{"x":8960,"y":-22},
{"x":9000,"y":12},{"x":9040,"y":-10},{"x":9080,"y":9},{"x":9120,"y":-13},{"x":9160,"y":11},{"x":9200,"y":21},{"x":9240,"y":-15},{"x":9280,"y":8},{"x":9320,"y":-9},{"x":9360,"y":17},{"x":9400,"y":-18},{"x":9440,"y":10},{"x":9480,"y":-7},{"x":9520,"y":13},{"x":9560,"y":-11},{"x":9600,"y":9},{"x":9640,"y":-14},{"x":9680,"y":15},{"x":9720,"y":-8},{"x":9760,"y":6},{"x":9800,"y":-10},{"x":9840,"y":12},{"x":9880,"y":-9},{"x":9920,"y":8},{"x":9960,"y":-12},
{"x":10000,"y":10},{"x":10040,"y":-8},{"x":10080,"y":13},{"x":10120,"y":-11},{"x":10160,"y":-21},{"x":10200,"y":19},{"x":10240,"y":-10},{"x":10280,"y":8},{"x":10320,"y":-12},{"x":10360,"y":11},{"x":10400,"y":-7},{"x":10440,"y":9},{"x":10480,"y":-13},{"x":10520,"y":12},{"x":10560,"y":-9},{"x":10600,"y":7},{"x":10640,"y":-11},{"x":10680,"y":10},{"x":10720,"y":-8},{"x":10760,"y":12},{"x":10800,"y":-14},{"x":10840,"y":9},{"x":10880,"y":-6},{"x":10920,"y":8},{"x":10960,"y":-23},
{"x":11000,"y":22},{"x":11040,"y":-12},{"x":11080,"y":9},{"x":11120,"y":-10},{"x":11160,"y":11},{"x":11200,"y":-8},{"x":11240,"y":13},{"x":11280,"y":-12},{"x":11320,"y":7},{"x":11360,"y":-9},{"x":11400,"y":10},{"x":11440,"y":-11},{"x":11480,"y":8},{"x":11520,"y":-6},{"x":11560,"y":12},{"x":11600,"y":-13},{"x":11640,"y":22},{"x":11680,"y":-15},{"x":11720,"y":9},{"x":11760,"y":-8},{"x":11800,"y":11},{"x":11840,"y":-10},{"x":11880,"y":8},{"x":11920,"y":-12},{"x":11960,"y":10},
{"x":12000,"y":-9},{"x":12040,"y":8},{"x":12080,"y":-11},{"x":12120,"y":12},{"x":12160,"y":-7},{"x":12200,"y":9},{"x":12240,"y":-10},{"x":12280,"y":11},{"x":12320,"y":-8},{"x":12360,"y":6},{"x":12400,"y":-12},{"x":12440,"y":10},{"x":12480,"y":-9},{"x":12520,"y":8},{"x":12560,"y":-11},{"x":12600,"y":12},{"x":12640,"y":-8},{"x":12680,"y":-17},{"x":12720,"y":11},{"x":12760,"y":14},{"x":12800,"y":-10},{"x":12840,"y":7},{"x":12880,"y":-9},{"x":12920,"y":11},{"x":12960,"y":-12},
{"x":13000,"y":9},{"x":13040,"y":-7},{"x":13080,"y":19},{"x":13120,"y":-13},{"x":13160,"y":10},{"x":13200,"y":-9},{"x":13240,"y":12},{"x":13280,"y":-11},{"x":13320,"y":8},{"x":13360,"y":-10},{"x":13400,"y":11},{"x":13440,"y":-19},{"x":13480,"y":13},{"x":13520,"y":-8},{"x":13560,"y":9},{"x":13600,"y":-12},{"x":13640,"y":14},{"x":13680,"y":-10},{"x":13720,"y":8},{"x":13760,"y":-13},{"x":13800,"y":15},{"x":13840,"y":-9},{"x":13880,"y":11},{"x":13920,"y":-14},{"x":13960,"y":12},
{"x":14000,"y":-9},{"x":14040,"y":10},{"x":14080,"y":-12},{"x":14120,"y":13},{"x":14160,"y":-10},{"x":14200,"y":16},{"x":14240,"y":21},{"x":14280,"y":-17},{"x":14320,"y":12},{"x":14360,"y":-9},{"x":14400,"y":14},{"x":14440,"y":-13},{"x":14480,"y":10},{"x":14520,"y":-11},{"x":14560,"y":23},{"x":14600,"y":-16},{"x":14640,"y":9},{"x":14680,"y":-10},{"x":14720,"y":12},{"x":14760,"y":-8},{"x":14800,"y":7},{"x":14840,"y":-11},{"x":14880,"y":9},{"x":14920,"y":-7},{"x":14960,"y":10},
{"x":15000,"y":-8},{"x":15040,"y":9},{"x":15080,"y":-10},{"x":15120,"y":11},{"x":15160,"y":-7},{"x":15200,"y":8},{"x":15240,"y":-9},{"x":15280,"y":-16},{"x":15320,"y":12},{"x":15360,"y":-8},{"x":15400,"y":10},{"x":15440,"y":-11},{"x":15480,"y":9},{"x":15520,"y":-7},{"x":15560,"y":8},{"x":15600,"y":-10},{"x":15640,"y":11},{"x":15680,"y":-6},{"x":15720,"y":9},{"x":15760,"y":-8},{"x":15800,"y":6}
],
"T": [
{"x":0,"y":-7},{"x":40,"y":21},{"x":80,"y":-24},{"x":120,"y":17},{"x":160,"y":-18},{"x":200,"y":14},{"x":240,"y":-25},{"x":280,"y":16},{"x":320,"y":-12},{"x":360,"y":18},{"x":400,"y":-20},{"x":440,"y":13},{"x":480,"y":-9},{"x":520,"y":21},{"x":560,"y":-22},{"x":600,"y":12},{"x":640,"y":-17},{"x":680,"y":10},{"x":720,"y":-8},{"x":760,"y":14},{"x":800,"y":-11},{"x":840,"y":9},{"x":880,"y":-13},{"x":920,"y":15},{"x":960,"y":-10},
{"x":1000,"y":17},{"x":1040,"y":-12},{"x":1080,"y":10},{"x":1120,"y":-15},{"x":1160,"y":13},{"x":1200,"y":-9},{"x":1240,"y":20},{"x":1280,"y":-14},{"x":1320,"y":-33},{"x":1360,"y":24},{"x":1400,"y":-16},{"x":1440,"y":11},{"x":1480,"y":-8},{"x":1520,"y":28},{"x":1560,"y":-13},{"x":1600,"y":9},{"x":1640,"y":-11},{"x":1680,"y":14},{"x":1720,"y":-10},{"x":1760,"y":12},{"x":1800,"y":-15},{"x":1840,"y":10},{"x":1880,"y":-7},{"x":1920,"y":13},{"x":1960,"y":-12},
{"x":2000,"y":11},{"x":2040,"y":-9},{"x":2080,"y":-19},{"x":2120,"y":14},{"x":2160,"y":-12},{"x":2200,"y":10},{"x":2240,"y":-15},{"x":2280,"y":16},{"x":2320,"y":-11},{"x":2360,"y":12},{"x":2400,"y":-18},{"x":2440,"y":20},{"x":2480,"y":-16},{"x":2520,"y":27},{"x":2560,"y":-23},{"x":2600,"y":25},{"x":2640,"y":-22},{"x":2680,"y":27},{"x":2720,"y":-24},{"x":2760,"y":22},{"x":2800,"y":-23},{"x":2840,"y":18},{"x":2880,"y":-20},{"x":2920,"y":16},{"x":2960,"y":-14},
{"x":3000,"y":12},{"x":3040,"y":-10},{"x":3080,"y":15},{"x":3120,"y":-13},{"x":3160,"y":9},{"x":3200,"y":-16},{"x":3240,"y":23},{"x":3280,"y":-12},{"x":3320,"y":14},{"x":3360,"y":-17},{"x":3400,"y":11},{"x":3440,"y":-9},{"x":3480,"y":13},{"x":3520,"y":-23},{"x":3560,"y":15},{"x":3600,"y":-11},{"x":3640,"y":26},{"x":3680,"y":-13},{"x":3720,"y":16},{"x":3760,"y":-9},{"x":3800,"y":12},{"x":3840,"y":-14},{"x":3880,"y":10},{"x":3920,"y":-8},{"x":3960,"y":15},
{"x":4000,"y":-12},{"x":4040,"y":24},{"x":4080,"y":-24},{"x":4120,"y":18},{"x":4160,"y":-15},{"x":4200,"y":12},{"x":4240,"y":-10},{"x":4280,"y":14},{"x":4320,"y":-16},{"x":4360,"y":11},{"x":4400,"y":-9},{"x":4440,"y":13},{"x":4480,"y":-17},{"x":4520,"y":9},{"x":4560,"y":-6},{"x":4600,"y":10},{"x":4640,"y":-12},{"x":4680,"y":15},{"x":4720,"y":-11},{"x":4760,"y":8},{"x":4800,"y":-10},{"x":4840,"y":12},{"x":4880,"y":-8},{"x":4920,"y":14},{"x":4960,"y":-13},
{"x":5000,"y":10},{"x":5040,"y":-12},{"x":5080,"y":19},{"x":5120,"y":-14},{"x":5160,"y":-27},{"x":5200,"y":16},{"x":5240,"y":-18},{"x":5280,"y":14},{"x":5320,"y":-12},{"x":5360,"y":23},{"x":5400,"y":-20},{"x":5440,"y":24},{"x":5480,"y":-31},{"x":5520,"y":17},{"x":5560,"y":-14},{"x":5600,"y":20},{"x":5640,"y":-18},{"x":5680,"y":15},{"x":5720,"y":-12},{"x":5760,"y":18},{"x":5800,"y":-16},{"x":5840,"y":13},{"x":5880,"y":-19},{"x":5920,"y":17},{"x":5960,"y":-11},
{"x":6000,"y":14},{"x":6040,"y":-15},{"x":6080,"y":10},{"x":6120,"y":22},{"x":6160,"y":-17},{"x":6200,"y":12},{"x":6240,"y":-10},{"x":6280,"y":16},{"x":6320,"y":-19},{"x":6360,"y":14},{"x":6400,"y":27},{"x":6440,"y":-20},{"x":6480,"y":15},{"x":6520,"y":26},{"x":6560,"y":-16},{"x":6600,"y":11},{"x":6640,"y":-13},{"x":6680,"y":17},{"x":6720,"y":-15},{"x":6760,"y":10},{"x":6800,"y":-12},{"x":6840,"y":18},{"x":6880,"y":-17},{"x":6920,"y":13},{"x":6960,"y":-27},
{"x":7000,"y":15},{"x":7040,"y":-12},{"x":7080,"y":10},{"x":7120,"y":-14},{"x":7160,"y":17},{"x":7200,"y":-11},{"x":7240,"y":9},{"x":7280,"y":-18},{"x":7320,"y":14},{"x":7360,"y":-10},{"x":7400,"y":12},{"x":7440,"y":-15},{"x":7480,"y":11},{"x":7520,"y":-9},{"x":7560,"y":16},{"x":7600,"y":-13},{"x":7640,"y":10},{"x":7680,"y":-12},{"x":7720,"y":28},{"x":7760,"y":-14},{"x":7800,"y":9},{"x":7840,"y":-11},{"x":7880,"y":12},{"x":7920,"y":-8},{"x":7960,"y":31},
{"x":8000,"y":-9},{"x":8040,"y":12},{"x":8080,"y":2},{"x":8120,"y":-4},{"x":8160,"y":6},{"x":8200,"y":13},{"x":8240,"y":-28},{"x":8280,"y":61},{"x":8320,"y":-37},{"x":8360,"y":20},{"x":8400,"y":-23},{"x":8440,"y":33},{"x":8480,"y":-28},{"x":8520,"y":31},{"x":8560,"y":-27},{"x":8600,"y":35},{"x":8640,"y":12},{"x":8680,"y":17},{"x":8720,"y":-23},{"x":8760,"y":20},{"x":8800,"y":-14},{"x":8840,"y":10},{"x":8880,"y":18},{"x":8920,"y":-16},{"x":8960,"y":14},
{"x":9000,"y":-12},{"x":9040,"y":-37},{"x":9080,"y":28},{"x":9120,"y":-15},{"x":9160,"y":12},{"x":9200,"y":-11},{"x":9240,"y":34},{"x":9280,"y":-18},{"x":9320,"y":15},{"x":9360,"y":-20},{"x":9400,"y":17},{"x":9440,"y":-13},{"x":9480,"y":22},{"x":9520,"y":-19},{"x":9560,"y":16},{"x":9600,"y":-14},{"x":9640,"y":27},{"x":9680,"y":-22},{"x":9720,"y":19},{"x":9760,"y":-12},{"x":9800,"y":14},{"x":9840,"y":-17},{"x":9880,"y":12},{"x":9920,"y":-10},{"x":9960,"y":18},
{"x":10000,"y":-15},{"x":10040,"y":13},{"x":10080,"y":-11},{"x":10120,"y":-29},{"x":10160,"y":16},{"x":10200,"y":-14},{"x":10240,"y":12},{"x":10280,"y":28},{"x":10320,"y":-17},{"x":10360,"y":14},{"x":10400,"y":-12},{"x":10440,"y":10},{"x":10480,"y":-16},{"x":10520,"y":18},{"x":10560,"y":-13},{"x":10600,"y":20},{"x":10640,"y":-15},{"x":10680,"y":11},{"x":10720,"y":27},{"x":10760,"y":-18},{"x":10800,"y":13},{"x":10840,"y":-10},{"x":10880,"y":15},{"x":10920,"y":-19},{"x":10960,"y":12},
{"x":11000,"y":-14},{"x":11040,"y":10},{"x":11080,"y":-12},{"x":11120,"y":19},{"x":11160,"y":-15},{"x":11200,"y":11},{"x":11240,"y":-9},{"x":11280,"y":13},{"x":11320,"y":-16},{"x":11360,"y":23},{"x":11400,"y":-28},{"x":11440,"y":14},{"x":11480,"y":-11},{"x":11520,"y":9},{"x":11560,"y":-13},{"x":11600,"y":15},{"x":11640,"y":-10},{"x":11680,"y":23},{"x":11720,"y":-18},{"x":11760,"y":12},{"x":11800,"y":-9},{"x":11840,"y":11},{"x":11880,"y":-14},{"x":11920,"y":10},{"x":11960,"y":-7},
{"x":12000,"y":10},{"x":12040,"y":-13},{"x":12080,"y":27},{"x":12120,"y":-16},{"x":12160,"y":12},{"x":12200,"y":-14},{"x":12240,"y":9},{"x":12280,"y":22},{"x":12320,"y":-18},{"x":12360,"y":13},{"x":12400,"y":-11},{"x":12440,"y":23},{"x":12480,"y":-15},{"x":12520,"y":10},{"x":12560,"y":-12},{"x":12600,"y":14},{"x":12640,"y":-10},{"x":12680,"y":8},{"x":12720,"y":-13},{"x":12760,"y":11},{"x":12800,"y":9},{"x":12840,"y":-34},{"x":12880,"y":27},{"x":12920,"y":-20},{"x":12960,"y":33},
{"x":13000,"y":-28},{"x":13040,"y":18},{"x":13080,"y":-14},{"x":13120,"y":12},{"x":13160,"y":-17},{"x":13200,"y":15},{"x":13240,"y":-11},{"x":13280,"y":13},{"x":13320,"y":-15},{"x":13360,"y":10},{"x":13400,"y":-12},{"x":13440,"y":16},{"x":13480,"y":-26},{"x":13520,"y":19},{"x":13560,"y":-14},{"x":13600,"y":17},{"x":13640,"y":-30},{"x":13680,"y":27},{"x":13720,"y":-20},{"x":13760,"y":15},{"x":13800,"y":-12},{"x":13840,"y":18},{"x":13880,"y":-16},{"x":13920,"y":11},{"x":13960,"y":-10},
{"x":14000,"y":14},{"x":14040,"y":-12},{"x":14080,"y":10},{"x":14120,"y":-15},{"x":14160,"y":12},{"x":14200,"y":22},{"x":14240,"y":-16},{"x":14280,"y":11},{"x":14320,"y":-9},{"x":14360,"y":13},{"x":14400,"y":-14},{"x":14440,"y":22},{"x":14480,"y":-17},{"x":14520,"y":12},{"x":14560,"y":-10},{"x":14600,"y":14},{"x":14640,"y":-11},{"x":14680,"y":9},{"x":14720,"y":-13},{"x":14760,"y":12},{"x":14800,"y":-8},{"x":14840,"y":10},{"x":14880,"y":-12},{"x":14920,"y":15},{"x":14960,"y":-9},
{"x":15000,"y":11},{"x":15040,"y":-13},{"x":15080,"y":17},{"x":15120,"y":-12},{"x":15160,"y":9},{"x":15200,"y":-10},{"x":15240,"y":13},{"x":15280,"y":-11},{"x":15320,"y":8},{"x":15360,"y":23},{"x":15400,"y":-27},{"x":15440,"y":14},{"x":15480,"y":-10},{"x":15520,"y":12},{"x":15560,"y":-9},{"x":15600,"y":11},{"x":15640,"y":-21},{"x":15680,"y":21},{"x":15720,"y":-12},{"x":15760,"y":9},{"x":15800,"y":-7}
]
},
"vconcat": [
{"width": 1200, "height": 118, "layer": [
  {"data": {"name": "N"}, "mark": {"type": "line", "color": "black", "strokeWidth": 2, "strokeJoin": "round"},
   "encoding": {"x": {"field": "x", "type": "quantitative", "scale": {"domain": [-790, 16590], "nice": false, "zero": false}, "axis": {"values": [0,2000,4000,6000,8000,10000,12000,14000,16000], "labels": false}},
                "y": {"field": "y", "type": "quantitative", "scale": {"domain": [-71, 47], "nice": false, "zero": false}, "axis": null}}},
  {"data": {"name": "picks"}, "mark": {"type": "rule", "color": "#00bfbf", "strokeWidth": 2.8, "strokeDash": [10.3, 4.4]}, "encoding": {"x": {"field": "t", "type": "quantitative"}}},
  {"data": {"values": [{"lab": "N"}]}, "mark": {"type": "text", "font": "DejaVu Sans", "fontSize": 13.9, "align": "left", "baseline": "middle", "color": "black"},
   "encoding": {"x": {"datum": -560}, "y": {"datum": 35}, "text": {"field": "lab"}}}
]},
{"width": 1200, "height": 118, "layer": [
  {"data": {"name": "E"}, "mark": {"type": "line", "color": "black", "strokeWidth": 2, "strokeJoin": "round"},
   "encoding": {"x": {"field": "x", "type": "quantitative", "scale": {"domain": [-790, 16590], "nice": false, "zero": false}, "axis": {"values": [0,2000,4000,6000,8000,10000,12000,14000,16000], "labels": false}},
                "y": {"field": "y", "type": "quantitative", "scale": {"domain": [-69, 50], "nice": false, "zero": false}, "axis": null}}},
  {"data": {"name": "picks"}, "mark": {"type": "rule", "color": "#00bfbf", "strokeWidth": 2.8, "strokeDash": [10.3, 4.4]}, "encoding": {"x": {"field": "t", "type": "quantitative"}}},
  {"data": {"values": [{"lab": "E"}]}, "mark": {"type": "text", "font": "DejaVu Sans", "fontSize": 13.9, "align": "left", "baseline": "middle", "color": "black"},
   "encoding": {"x": {"datum": -560}, "y": {"datum": 37}, "text": {"field": "lab"}}}
]},
{"width": 1200, "height": 118, "layer": [
  {"data": {"name": "Z"}, "mark": {"type": "line", "color": "black", "strokeWidth": 2, "strokeJoin": "round"},
   "encoding": {"x": {"field": "x", "type": "quantitative", "scale": {"domain": [-790, 16590], "nice": false, "zero": false}, "axis": {"values": [0,2000,4000,6000,8000,10000,12000,14000,16000], "labels": false}},
                "y": {"field": "y", "type": "quantitative", "scale": {"domain": [-65, 53], "nice": false, "zero": false}, "axis": null}}},
  {"data": {"name": "picks"}, "mark": {"type": "rule", "color": "#00bfbf", "strokeWidth": 2.8, "strokeDash": [10.3, 4.4]}, "encoding": {"x": {"field": "t", "type": "quantitative"}}},
  {"data": {"values": [{"lab": "Z"}]}, "mark": {"type": "text", "font": "DejaVu Sans", "fontSize": 13.9, "align": "left", "baseline": "middle", "color": "black"},
   "encoding": {"x": {"datum": -560}, "y": {"datum": 41}, "text": {"field": "lab"}}}
]},
{"width": 1200, "height": 118, "layer": [
  {"data": {"name": "R"}, "mark": {"type": "line", "color": "black", "strokeWidth": 2, "strokeJoin": "round"},
   "encoding": {"x": {"field": "x", "type": "quantitative", "scale": {"domain": [-790, 16590], "nice": false, "zero": false}, "axis": {"values": [0,2000,4000,6000,8000,10000,12000,14000,16000], "labels": false}},
                "y": {"field": "y", "type": "quantitative", "scale": {"domain": [-52, 67], "nice": false, "zero": false}, "axis": null}}},
  {"data": {"name": "picks"}, "mark": {"type": "rule", "color": "#00bfbf", "strokeWidth": 2.8, "strokeDash": [10.3, 4.4]}, "encoding": {"x": {"field": "t", "type": "quantitative"}}},
  {"data": {"values": [{"lab": "R"}]}, "mark": {"type": "text", "font": "DejaVu Sans", "fontSize": 13.9, "align": "left", "baseline": "middle", "color": "black"},
   "encoding": {"x": {"datum": -560}, "y": {"datum": 55}, "text": {"field": "lab"}}}
]},
{"width": 1200, "height": 118, "layer": [
  {"data": {"name": "T"}, "mark": {"type": "line", "color": "black", "strokeWidth": 2, "strokeJoin": "round"},
   "encoding": {"x": {"field": "x", "type": "quantitative", "scale": {"domain": [-790, 16590], "nice": false, "zero": false}, "axis": {"values": [0,2000,4000,6000,8000,10000,12000,14000,16000], "labels": true}},
                "y": {"field": "y", "type": "quantitative", "scale": {"domain": [-48, 70], "nice": false, "zero": false}, "axis": null}}},
  {"data": {"name": "picks"}, "mark": {"type": "rule", "color": "#00bfbf", "strokeWidth": 2.8, "strokeDash": [10.3, 4.4]}, "encoding": {"x": {"field": "t", "type": "quantitative"}}},
  {"data": {"values": [{"lab": "T"}]}, "mark": {"type": "text", "font": "DejaVu Sans", "fontSize": 13.9, "align": "left", "baseline": "middle", "color": "black"},
   "encoding": {"x": {"datum": -560}, "y": {"datum": 58}, "text": {"field": "lab"}}}
]}
]
}
